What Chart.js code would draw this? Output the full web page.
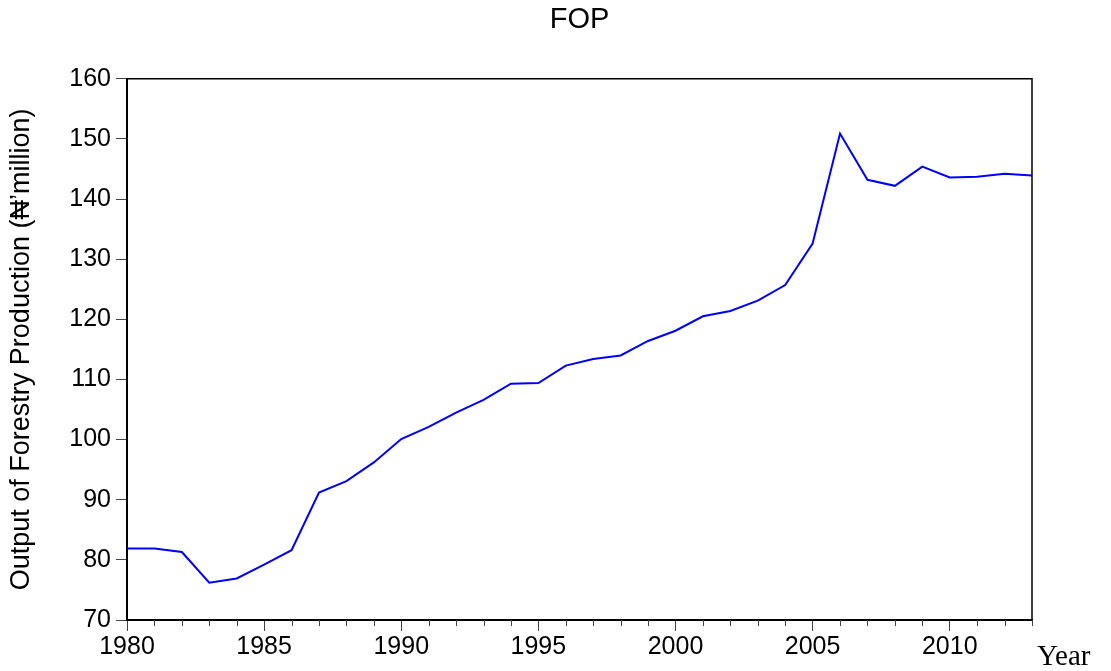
<!DOCTYPE html>
<html>
<head>
<meta charset="utf-8">
<title>FOP</title>
<script src="https://cdn.jsdelivr.net/npm/chart.js@4.4.1/dist/chart.umd.min.js"></script>
<style>
  html, body { margin: 0; padding: 0; background: #fff; }
  canvas { display: block; }
</style>
</head>
<body>
<canvas id="fop" width="1111" height="671"></canvas>
<script>
const years = [1980, 1981, 1982, 1983, 1984, 1985, 1986, 1987, 1988, 1989,
  1990, 1991, 1992, 1993, 1994, 1995, 1996, 1997, 1998, 1999,
  2000, 2001, 2002, 2003, 2004, 2005, 2006, 2007, 2008, 2009,
  2010, 2011, 2012, 2013];
const fop = [81.9, 81.9, 81.3, 76.2, 76.9, 79.2, 81.6, 91.2, 93.1, 96.2,
  100.1, 102.1, 104.5, 106.6, 109.3, 109.4, 112.3, 113.4, 114.0, 116.4,
  118.1, 120.5, 121.4, 123.1, 125.7, 132.6, 150.9, 143.2, 142.2, 145.4,
  143.6, 143.7, 144.2, 143.9];
const yTicks = [70, 80, 90, 100, 110, 120, 130, 140, 150, 160];
const xTicks = [1980, 1985, 1990, 1995, 2000, 2005, 2010];

const sans = '"Liberation Sans", Arial, sans-serif';

// top and right border of the plot box
const frame = {
  id: 'frame',
  afterDraw(chart) {
    const { ctx, chartArea: a } = chart;
    ctx.save();
    ctx.strokeStyle = '#000';
    ctx.lineWidth = 1.5;
    ctx.beginPath();
    ctx.moveTo(a.left, a.top);
    ctx.lineTo(a.right, a.top);
    ctx.lineTo(a.right, a.bottom);
    ctx.stroke();
    ctx.restore();
  }
};

// short ticks for the unlabelled years, plus the "Year" label
const minorTicks = {
  id: 'minorTicks',
  afterDraw(chart) {
    const { ctx, chartArea: a } = chart;
    const x = chart.scales.x;
    ctx.save();
    ctx.strokeStyle = '#444';
    ctx.lineWidth = 1;
    ctx.beginPath();
    years.forEach(yr => {
      if (xTicks.includes(yr)) return;
      const px = Math.round(x.getPixelForValue(yr)) + 0.5;
      ctx.moveTo(px, a.bottom);
      ctx.lineTo(px, a.bottom + 6);
    });
    ctx.stroke();
    ctx.fillStyle = '#000';
    ctx.font = '29px "Liberation Serif", "Times New Roman", serif';
    ctx.textAlign = 'left';
    ctx.textBaseline = 'alphabetic';
    ctx.fillText('Year', a.right + 5, 665);
    ctx.restore();
  }
};

const chart = new Chart(document.getElementById('fop').getContext('2d'), {
  type: 'line',
  data: {
    datasets: [{
      label: 'FOP',
      data: years.map((yr, i) => ({ x: yr, y: fop[i] })),
      borderColor: '#0000ff',
      borderWidth: 2,
      pointRadius: 0,
      tension: 0,
      fill: false
    }]
  },
  options: {
    responsive: false,
    animation: false,
    layout: { padding: { left: 0, right: 79, top: 0, bottom: 0 } },
    plugins: {
      legend: { display: false },
      tooltip: { enabled: false },
      title: {
        display: true,
        text: 'FOP',
        fullSize: false,
        color: '#000',
        font: { family: sans, size: 29, weight: 'normal' },
        padding: { top: 3, bottom: 41 }
      }
    },
    scales: {
      x: {
        type: 'linear',
        min: years[0],
        max: years[years.length - 1],
        afterFit: s => { s.height = 51; },
        afterBuildTicks: s => { s.ticks = xTicks.map(v => ({ value: v })); },
        ticks: {
          color: '#000',
          padding: 1,
          maxRotation: 0,
          autoSkip: false,
          font: { family: sans, size: 25 },
          callback: v => String(v)
        },
        grid: { drawOnChartArea: false, tickLength: 11, tickColor: '#444' },
        border: { display: true, color: '#000', width: 2 }
      },
      y: {
        min: yTicks[0],
        max: yTicks[yTicks.length - 1],
        afterFit: s => { s.width = 127; },
        afterBuildTicks: s => { s.ticks = yTicks.map(v => ({ value: v })); },
        ticks: {
          color: '#000',
          padding: 5,
          font: { family: sans, size: 25 }
        },
        grid: { drawOnChartArea: false, tickLength: 11, tickColor: '#444' },
        border: { display: true, color: '#000', width: 2 },
        title: {
          display: true,
          text: 'Output of Forestry Production (\u20A6\u2019million)',
          color: '#000',
          font: { family: sans, size: 27 },
          padding: { top: 5, bottom: 0 }
        }
      }
    }
  },
  plugins: [frame, minorTicks]
});
</script>
</body>
</html>
